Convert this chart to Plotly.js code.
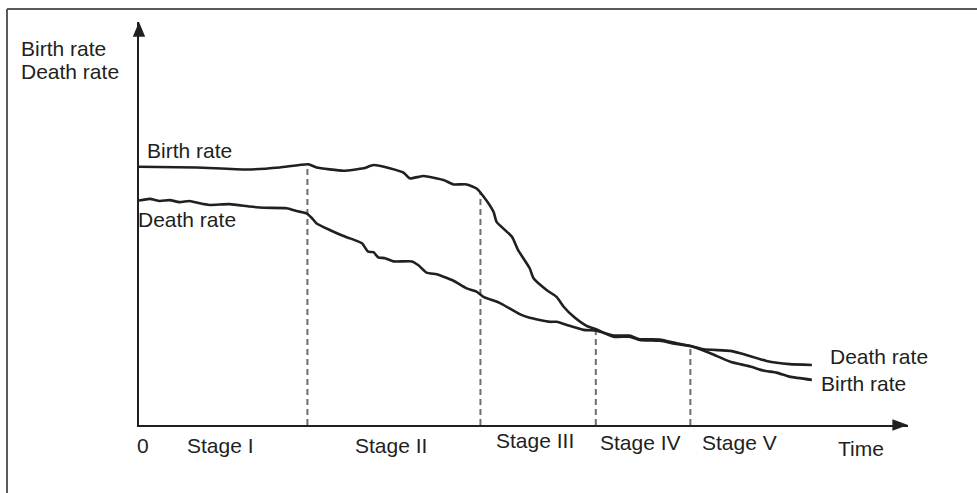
<!DOCTYPE html>
<html>
<head>
<meta charset="utf-8">
<script src="https://cdn.plot.ly/plotly-3.0.1.min.js"></script>
<style>
  html, body { margin: 0; padding: 0; background: #ffffff; }
  #chart { width: 977px; height: 493px; }
</style>
</head>
<body>
<div id="chart"></div>
<script>
// ---------------- data (time and rate in arbitrary units, 0-100) ----------------
var birthTime = [0, 7.5, 14.0, 18.3, 22.0, 23.1, 26.6, 29.2, 30.5, 32.6, 34.4, 35.2, 37.0, 39.6, 40.9, 42.6, 43.9, 44.8, 46.1, 46.5, 48.5, 49.3, 50.8, 51.3, 53.0, 54.3, 55.2, 56.5, 58.2, 59.5, 61.7, 63.8, 65.1, 67.7, 69.9, 71.7, 74.3, 76.9, 79.5, 81.2, 82.9, 84.6, 87.5];
var birthRate = [64.1, 63.9, 63.4, 63.9, 64.7, 63.9, 63.1, 63.7, 64.5, 63.7, 62.6, 61.2, 61.8, 60.8, 59.7, 59.7, 58.7, 56.7, 52.9, 50.4, 46.7, 43.4, 38.9, 36.4, 33.5, 31.8, 29.4, 26.9, 24.6, 23.7, 21.9, 21.9, 21.1, 20.9, 20.1, 19.6, 17.8, 15.7, 14.5, 13.5, 13.0, 12.0, 11.2];

var deathTime = [0, 1.4, 2.7, 4.0, 5.3, 6.6, 7.9, 9.2, 11.8, 14.4, 16.2, 19.2, 20.5, 21.8, 22.5, 23.1, 24.8, 26.6, 28.3, 29.0, 29.8, 30.5, 31.1, 32.0, 33.1, 35.5, 36.3, 37.4, 38.7, 39.6, 40.9, 42.6, 43.9, 44.8, 46.9, 49.5, 50.8, 53.4, 54.3, 56.0, 57.8, 59.5, 61.7, 63.8, 65.1, 67.7, 69.9, 71.7, 73.4, 76.9, 78.2, 81.6, 84.6, 87.5];
var deathRate = [55.7, 56.1, 55.6, 55.8, 55.3, 55.6, 55.0, 54.6, 54.8, 54.2, 53.9, 53.8, 53.1, 52.5, 51.3, 50.0, 48.4, 46.9, 45.7, 45.1, 43.0, 42.9, 41.6, 41.4, 40.6, 40.6, 39.7, 37.8, 37.4, 36.8, 35.8, 33.9, 33.1, 31.8, 30.3, 27.5, 26.6, 25.6, 25.6, 24.6, 23.6, 23.4, 22.2, 22.2, 21.3, 21.2, 20.3, 19.6, 18.8, 18.4, 17.8, 15.9, 15.1, 14.9];

var stageBoundaries = [21.9, 44.4, 59.4, 71.7];
var stageNames = ['Stage I', 'Stage II', 'Stage III', 'Stage IV', 'Stage V'];
var originLabel = '0';
var xAxisTitle = 'Time';
var yAxisTitleLines = ['Birth rate', 'Death rate'];
var seriesNames = ['Birth rate', 'Death rate'];

// ---------------- styling / layout ----------------
var INK = '#231f20';
var FONT = 'Liberation Sans, Arial, Helvetica, sans-serif';
var FS = 21;
var W = 977, H = 493;
var M = {l: 139, r: 69, t: 22, b: 68};
var plotW = W - M.l - M.r, plotH = H - M.t - M.b;
function px2paperX(px) { return (px - M.l) / plotW; }
function px2paperY(py) { return (H - M.b - py) / plotH; }

function interp(xs, ys, x) {
  for (var i = 0; i < xs.length - 1; i++) {
    if (x >= xs[i] && x <= xs[i + 1]) {
      var f = (x - xs[i]) / (xs[i + 1] - xs[i]);
      return ys[i] + f * (ys[i + 1] - ys[i]);
    }
  }
  return ys[ys.length - 1];
}

var lineStyle = {color: INK, width: 2.6, shape: 'spline', smoothing: 0.5};
var traces = [
  {x: birthTime, y: birthRate, name: seriesNames[0], mode: 'lines', line: lineStyle, hoverinfo: 'skip'},
  {x: deathTime, y: deathRate, name: seriesNames[1], mode: 'lines', line: lineStyle, hoverinfo: 'skip'}
];

var shapes = [];
// stage dividers (dashed)
stageBoundaries.forEach(function (b) {
  var top = Math.max(interp(birthTime, birthRate, b), interp(deathTime, deathRate, b));
  shapes.push({type: 'line', xref: 'x', yref: 'y', x0: b, x1: b, y0: 0, y1: top,
    line: {color: '#6d6e71', width: 2, dash: '6px,4px'}, layer: 'below'});
});
// arrowheads (paper-anchored so they are not clipped)
shapes.push({type: 'path', xref: 'paper', yref: 'paper', xsizemode: 'pixel', ysizemode: 'pixel',
  xanchor: 1, yanchor: 0, path: 'M0,0 L-15.6,5.7 L-15.6,-5.7 Z',
  fillcolor: INK, line: {width: 0}});
shapes.push({type: 'path', xref: 'paper', yref: 'paper', xsizemode: 'pixel', ysizemode: 'pixel',
  xanchor: 0, yanchor: 1, path: 'M0,0 L-6.2,-14.7 L6.2,-14.7 Z',
  fillcolor: INK, line: {width: 0}});
// frame (top and left edges visible)
shapes.push({type: 'line', xref: 'paper', yref: 'paper',
  x0: px2paperX(7), x1: px2paperX(990), y0: px2paperY(9), y1: px2paperY(9),
  line: {color: '#5a5a5c', width: 2}});
shapes.push({type: 'line', xref: 'paper', yref: 'paper',
  x0: px2paperX(7), x1: px2paperX(7), y0: px2paperY(9), y1: px2paperY(510),
  line: {color: '#5a5a5c', width: 2}});

var annotations = [];
function txt(text, x, y, xref, yref, xanchor, opts) {
  var a = {text: text, x: x, y: y, xref: xref, yref: yref, xanchor: xanchor, yanchor: 'middle',
    showarrow: false, font: {family: FONT, size: FS, color: INK}, borderpad: 0};
  if (opts) for (var k in opts) a[k] = opts[k];
  annotations.push(a);
}
// y axis title (two lines)
txt(yAxisTitleLines[0], px2paperX(20), px2paperY(49), 'paper', 'paper', 'left');
txt(yAxisTitleLines[1], px2paperX(20), px2paperY(72), 'paper', 'paper', 'left');
// origin and stage labels
txt(originLabel, px2paperX(143), px2paperY(445), 'paper', 'paper', 'center');
var ends = [0].concat(stageBoundaries).concat([85.3]);
var stageY = [445, 445, 440, 442, 442];
stageNames.forEach(function (s, i) {
  var mid = (ends[i] + ends[i + 1]) / 2;
  txt(s, mid / 100, px2paperY(stageY[i]), 'paper', 'paper', 'center', {xshift: -3});
});
txt(xAxisTitle, px2paperX(860.5), px2paperY(448), 'paper', 'paper', 'center');
// series labels
txt(seriesNames[0], birthTime[0], birthRate[0], 'x', 'y', 'left', {xshift: 7, yshift: 16});
txt(seriesNames[1], deathTime[0], deathRate[0], 'x', 'y', 'left', {xshift: -2, yshift: -19});
txt(seriesNames[1], deathTime[deathTime.length - 1], deathRate[deathRate.length - 1], 'x', 'y', 'left', {xshift: 17, yshift: 8});
txt(seriesNames[0], birthTime[birthTime.length - 1], birthRate[birthRate.length - 1], 'x', 'y', 'left', {xshift: 8, yshift: -4});

var axisCommon = {range: [0, 100], showgrid: false, zeroline: false, showticklabels: false,
  ticks: '', showline: true, linecolor: INK, linewidth: 1.6, fixedrange: true};

var layout = {
  width: W, height: H,
  margin: M,
  paper_bgcolor: '#ffffff', plot_bgcolor: '#ffffff',
  showlegend: false,
  xaxis: Object.assign({}, axisCommon),
  yaxis: Object.assign({}, axisCommon),
  shapes: shapes,
  annotations: annotations,
  font: {family: FONT, color: INK}
};

Plotly.newPlot('chart', traces, layout, {staticPlot: true, displayModeBar: false});
</script>
</body>
</html>
